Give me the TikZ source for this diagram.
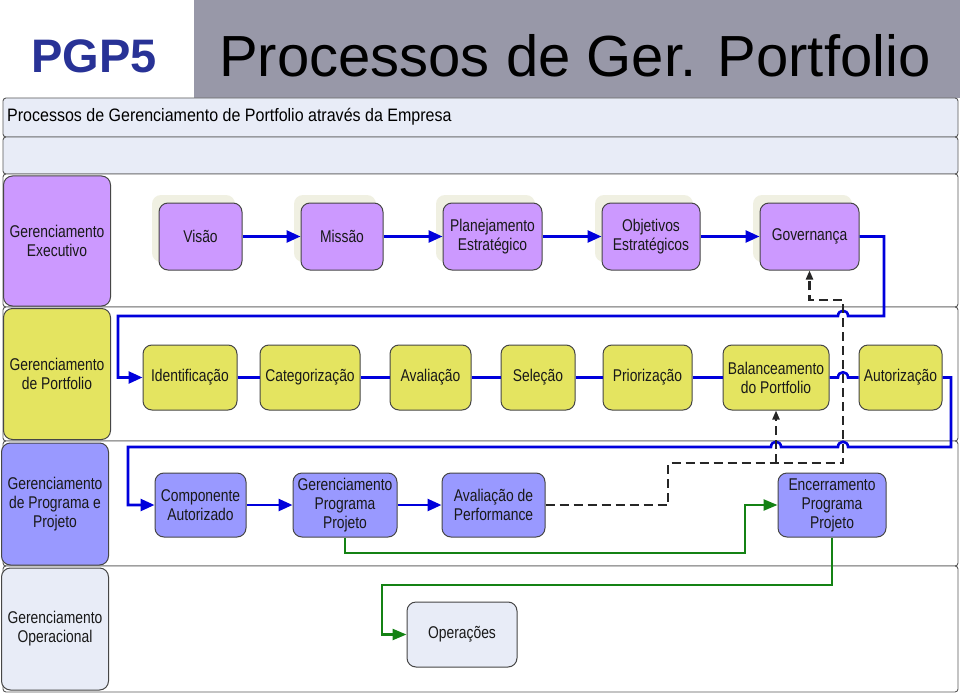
\documentclass[tikz,border=0pt]{standalone}
\usepackage{fontspec}
\setmainfont{Liberation Sans}
\newfontfamily\narrowfont[FakeStretch=0.815]{Liberation Sans}
\newfontfamily\headfont[FakeStretch=0.89]{Liberation Sans}
\usetikzlibrary{arrows.meta,shadows}
\definecolor{execfill}{RGB}{204,153,255}
\definecolor{portfill}{RGB}{228,228,96}
\definecolor{progfill}{RGB}{153,153,255}
\definecolor{operfill}{RGB}{232,236,247}
\definecolor{framec}{RGB}{70,70,70}
\definecolor{flowblue}{RGB}{0,0,220}
\definecolor{flowgreen}{RGB}{20,130,20}
\definecolor{titlegray}{RGB}{152,152,168}
\definecolor{titleblue}{RGB}{40,50,150}
\definecolor{shadowc}{RGB}{240,240,226}

\begin{document}
\begin{tikzpicture}[x=1pt, y=-1pt,
  box/.style={draw=framec, line width=1pt, rounded corners=9pt, align=center,
    inner sep=2pt, minimum height=65pt, text=black!90,
    font=\narrowfont\fontsize{17}{19}\selectfont},
  shadowbox/.style={box, general shadow={fill=shadowc, shadow xshift=-7pt, shadow yshift=8pt}},
  lanebox/.style={box, minimum width=107pt},
  lane/.style={draw=framec!90, line width=0.9pt, rounded corners=3pt},
  flow/.style={flowblue, line width=2.6pt},
  flowarrow/.style={flow, -{Triangle[length=14pt,width=12pt]}},
  greenflow/.style={flowgreen, line width=2.4pt, -{Triangle[length=14pt,width=11pt]}},
  dashflow/.style={black!85, line width=2.1pt, dash pattern=on 9pt off 5pt,
    -{Triangle[length=9pt,width=7pt]}}]
  \useasboundingbox (0,0) rectangle (960,695);

  % Title
  \fill[titlegray] (194,0) rectangle (960,98);
  \node[anchor=base west, font=\fontsize{47}{50}\selectfont\bfseries, text=titleblue, inner sep=0pt] (code) at (31,73) {PGP5};
  \node[anchor=base west, font=\fontsize{58}{60}\selectfont, inner sep=0pt] (title) at (219,77) {Processos de Ger. Portfolio};

  % Header strips
  \draw[lane, fill=operfill] (3,98) rectangle (958,137);
  \draw[lane, fill=operfill] (3,137) rectangle (958,174);
  \node[anchor=base west, font=\headfont\fontsize{18}{19}\selectfont, inner sep=0pt] (head) at (7,122) {Processos de Gerenciamento de Portfolio através da Empresa};

  % Lanes
  \draw[lane, fill=white] (3,174) rectangle (958,307);
  \draw[lane, fill=white] (3,307) rectangle (958,441);
  \draw[lane, fill=white] (3,441) rectangle (958,566);
  \draw[lane, fill=white] (3,566) rectangle (958,692);

  \node[lanebox, fill=execfill, minimum height=130pt] (exec) at (57,241) {Gerenciamento\\Executivo};
  \node[lanebox, fill=portfill, minimum height=131pt] (port) at (57,374) {Gerenciamento\\de Portfolio};
  \node[lanebox, fill=progfill, minimum height=122pt] (prog) at (55,504) {Gerenciamento\\de Programa e\\Projeto};
  \node[lanebox, fill=operfill, minimum height=122pt] (oper) at (55,629) {Gerenciamento\\Operacional};

  % Executivo
  \node[shadowbox, fill=execfill, minimum width=83pt, minimum height=67pt] (vis) at (200.5,236.5) {Visão};
  \node[shadowbox, fill=execfill, minimum width=82pt, minimum height=67pt] (mis) at (342,236.5) {Missão};
  \node[shadowbox, fill=execfill, minimum width=99pt, minimum height=67pt] (plan) at (492.5,236.5) {Planejamento\\Estratégico};
  \node[shadowbox, fill=execfill, minimum width=98pt, minimum height=67pt] (obj) at (651,236.5) {Objetivos\\Estratégicos};
  \node[shadowbox, fill=execfill, minimum width=99pt, minimum height=67pt] (gov) at (809.5,236.5) {Governança};

  % Portfolio
  \node[box, fill=portfill, minimum width=94pt] (ident) at (190,377.5) {Identificação};
  \node[box, fill=portfill, minimum width=100pt] (cat) at (310,377.5) {Categorização};
  \node[box, fill=portfill, minimum width=81pt] (aval) at (430.5,377.5) {Avaliação};
  \node[box, fill=portfill, minimum width=74pt] (sel) at (538,377.5) {Seleção};
  \node[box, fill=portfill, minimum width=89pt] (prio) at (647.5,377.5) {Priorização};
  \node[box, fill=portfill, minimum width=106pt] (bal) at (776,377.5) {Balanceamento\\do Portfolio};
  \node[box, fill=portfill, minimum width=83pt] (aut) at (900.5,377.5) {Autorização};

  % Programa e projeto
  \node[box, fill=progfill, minimum width=91pt, minimum height=64pt] (comp) at (200.5,505) {Componente\\Autorizado};
  \node[box, fill=progfill, minimum width=104pt, minimum height=64pt] (gpp) at (345,505) {Gerenciamento\\Programa\\Projeto};
  \node[box, fill=progfill, minimum width=103pt, minimum height=64pt] (perf) at (493.5,505) {Avaliação de\\Performance};
  \node[box, fill=progfill, minimum width=108pt, minimum height=64pt] (enc) at (832,505) {Encerramento\\Programa\\Projeto};

  % Operacional
  \node[box, fill=operfill, minimum width=110pt] (ops) at (462,634.5) {Operações};

  % Blue flow
  \draw[flowarrow] (vis) -- (mis);
  \draw[flowarrow] (mis) -- (plan);
  \draw[flowarrow] (plan) -- (obj);
  \draw[flowarrow] (obj) -- (gov);
  \draw[flowarrow] (gov.east) -- (884,236.5) |- (848,316) .. controls (848,309) and (838,309) .. (838,316) -- (118,316) |- (ident.west);
  \draw[flow] (ident) -- (cat);
  \draw[flow] (cat) -- (aval);
  \draw[flow] (aval) -- (sel);
  \draw[flow] (sel) -- (prio);
  \draw[flow] (prio) -- (bal);
  \draw[flow] (bal.east) -- (838,377.5) .. controls (838,370.5) and (848,370.5) .. (848,377.5) -- (aut.west);
  \draw[flowarrow] (aut.east) -- (951,377.5) -- (951,447) -- (848,447) .. controls (848,440) and (838,440) .. (838,447) -- (781,447) .. controls (781,440) and (771,440) .. (771,447) -- (128,447) |- (comp.west);
  \draw[flowarrow] (comp) -- (gpp);
  \draw[flowarrow] (gpp) -- (perf);

  % Feedback (dashed)
  \draw[dashflow] (perf.east) -- (668,505) -- (668,463) -- (843,463) -- (843,300) -| (gov.south);
  \draw[dashflow] (776,463) -- (bal.south);

  % Green flow
  \draw[greenflow] (gpp.south) |- (745,553) |- (enc.west);
  \draw[greenflow] (enc.south) |- (382,585) |- (ops.west);
\end{tikzpicture}
\end{document}
